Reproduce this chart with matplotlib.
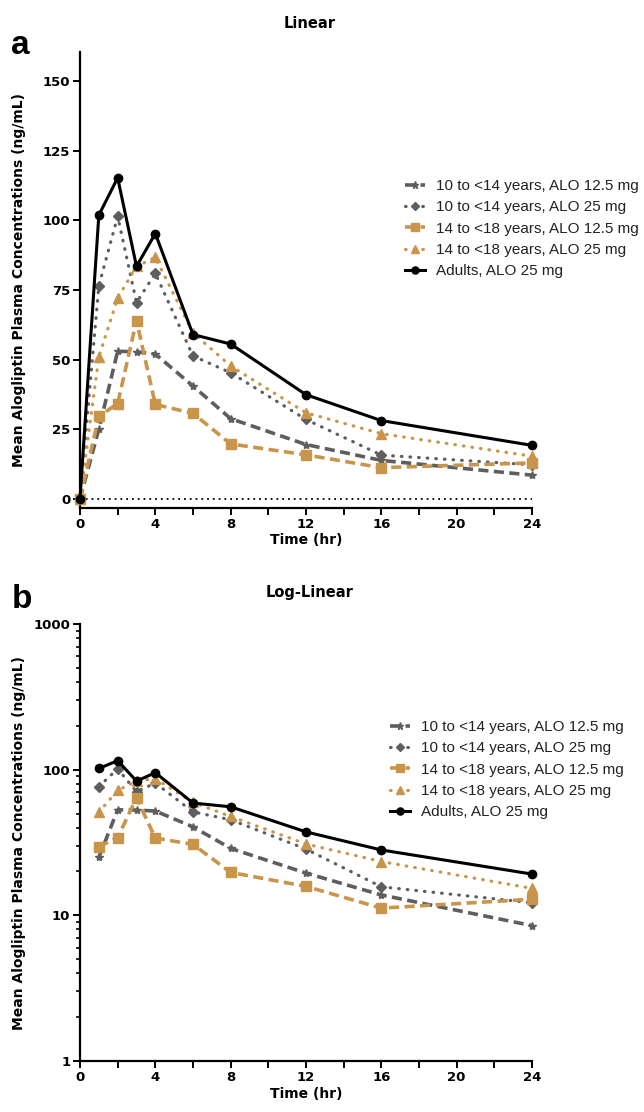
import matplotlib
matplotlib.use("Agg")
import matplotlib.pyplot as plt
from matplotlib.ticker import FixedLocator, FuncFormatter, LogLocator, NullFormatter

# ---------------- data ----------------
time = [0, 1, 2, 3, 4, 6, 8, 12, 16, 24]
series_labels = [
    "10 to <14 years, ALO 12.5 mg",
    "10 to <14 years, ALO 25 mg",
    "14 to <18 years, ALO 12.5 mg",
    "14 to <18 years, ALO 25 mg",
    "Adults, ALO 25 mg",
]
conc_10_14_125 = [0, 25.0, 53.0, 52.8, 52.0, 40.5, 28.8, 19.5, 13.8, 8.5]
conc_10_14_25 = [0, 76.5, 101.5, 70.5, 81.0, 51.3, 45.3, 28.5, 15.7, 12.2]
conc_14_18_125 = [0, 29.6, 34.2, 64.0, 33.9, 30.7, 19.7, 15.8, 11.2, 12.9]
conc_14_18_25 = [0, 51.0, 72.1, 83.5, 86.7, 59.6, 47.7, 30.9, 23.4, 15.3]
conc_adults = [0, 101.9, 115.3, 83.5, 95.3, 59.0, 55.6, 37.4, 28.1, 19.2]
series = [conc_10_14_125, conc_10_14_25, conc_14_18_125, conc_14_18_25, conc_adults]

GRAY = "#5e5e5e"
GOLD = "#c8954b"
styles = [
    dict(color=GRAY, ls=(0, (2.8, 1.5)), lw=2.6, marker="*", ms=6),
    dict(color=GRAY, ls=(0, (0.2, 2.5)), lw=2.3, marker="D", ms=5, dash_capstyle="round"),
    dict(color=GOLD, ls=(0, (2.8, 1.5)), lw=2.6, marker="s", ms=6.5),
    dict(color=GOLD, ls=(0, (0.2, 2.5)), lw=2.3, marker="^", ms=6.5, dash_capstyle="round"),
    dict(color="black", ls="-", lw=2.2, marker="o", ms=6),
]

W, H = 644, 1112
fig = plt.figure(figsize=(W / 100, H / 100), dpi=100)


def px_axes(left, top, right, bottom):
    return fig.add_axes([left / W, 1 - bottom / H, (right - left) / W, (bottom - top) / H])


def bold_ticks(ax):
    for lab in ax.get_xticklabels() + ax.get_yticklabels():
        lab.set_fontfamily("DejaVu Sans")
        lab.set_fontweight("bold")
        lab.set_fontsize(9.5)


def style_axes(ax):
    for s in ["top", "right"]:
        ax.spines[s].set_visible(False)
    for s in ["left", "bottom"]:
        ax.spines[s].set_linewidth(1.6)
    ax.tick_params(which="major", direction="out", length=5, width=1.4, pad=2)
    ax.set_xlim(0, 24)
    ax.xaxis.set_major_locator(FixedLocator(list(range(0, 25, 2))))
    ax.xaxis.set_major_formatter(FuncFormatter(lambda v, p: f"{int(v)}" if int(v) % 4 == 0 else ""))


def draw_legend(ax, x_px, top_px):
    leg = ax.legend(
        loc="upper left",
        bbox_to_anchor=(x_px / W, 1 - top_px / H),
        bbox_transform=fig.transFigure,
        frameon=False,
        borderpad=0,
        borderaxespad=0,
        handlelength=1.3,
        handletextpad=0.75,
        labelspacing=0.48,
        prop=dict(family="Liberation Sans", size=11),
        markerscale=0.85,
    )
    for t in leg.get_texts():
        t.set_color("#222222")
    return leg


def labels(ax):
    ax.set_xlabel("Time (hr)", fontfamily="DejaVu Sans", fontweight="bold", fontsize=10, labelpad=2)
    ax.set_ylabel("Mean Alogliptin Plasma Concentrations (ng/mL)", fontfamily="DejaVu Sans",
                  fontweight="bold", fontsize=10)
    ax.yaxis.set_label_coords((26 - 80) / 452, 0.5)


# ---------------- panel a: linear ----------------
ax1 = px_axes(80, 52, 532, 508)
ax1.plot([0, 24], [0, 0], color="black", ls=(0, (1, 2.2)), lw=1.3, zorder=1)
for y, lab, st in zip(series, series_labels, styles):
    ax1.plot(time, y, label=lab, clip_on=False, zorder=3, **st)
ax1.set_ylim(-3.3, 160.5)
ax1.yaxis.set_major_locator(FixedLocator([0, 25, 50, 75, 100, 125, 150]))
style_axes(ax1)
bold_ticks(ax1)
labels(ax1)
draw_legend(ax1, 405, 179)
fig.text(310 / W, 1 - 24 / H, "Linear", ha="center", va="center",
         fontfamily="DejaVu Sans", fontweight="bold", fontsize=10.5)
fig.text(20 / W, 1 - 46 / H, "a", ha="center", va="center",
         fontfamily="Liberation Sans", fontweight="bold", fontsize=24)

# ---------------- panel b: log-linear ----------------
ax2 = px_axes(80, 624, 532, 1061)
for y, lab, st in zip(series, series_labels, styles):
    ax2.plot(time[1:], y[1:], label=lab, clip_on=False, zorder=3, **st)
ax2.set_yscale("log")
ax2.set_ylim(1, 1000)
ax2.yaxis.set_major_locator(FixedLocator([1, 10, 100, 1000]))
ax2.yaxis.set_major_formatter(FuncFormatter(lambda v, p: f"{int(round(v))}"))
ax2.yaxis.set_minor_locator(LogLocator(base=10, subs=range(2, 10)))
ax2.yaxis.set_minor_formatter(NullFormatter())
style_axes(ax2)
ax2.tick_params(axis="y", which="minor", direction="out", length=3, width=1.2)
bold_ticks(ax2)
labels(ax2)
draw_legend(ax2, 390, 720)
fig.text(310 / W, 1 - 593 / H, "Log-Linear", ha="center", va="center",
         fontfamily="DejaVu Sans", fontweight="bold", fontsize=10.5)
fig.text(22 / W, 1 - 600 / H, "b", ha="center", va="center",
         fontfamily="Liberation Sans", fontweight="bold", fontsize=24)

fig.savefig("out.png", dpi=100)
